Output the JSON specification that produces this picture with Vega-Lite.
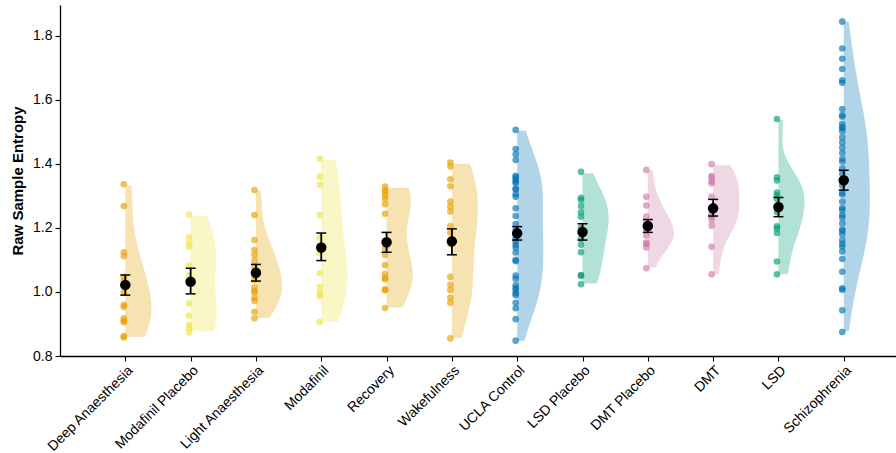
{
  "$schema": "https://vega.github.io/schema/vega-lite/v6.json",
  "width": 836,
  "height": 351,
  "autosize": {"type": "none"},
  "padding": {"left": 60, "top": 5, "right": 0, "bottom": 97},
  "background": "white",
  "config": {
    "view": {"stroke": null},
    "font": "Liberation Sans",
    "axis": {"grid": false, "domainColor": "#000", "tickColor": "#000", "labelColor": "#000", "titleColor": "#000", "domainWidth": 1.3, "tickWidth": 1.1, "tickSize": 5}
  },
  "datasets": {
    "grp": [
      {"g": "Deep Anaesthesia", "idx": 1}, {"g": "Modafinil Placebo", "idx": 2}, {"g": "Light Anaesthesia", "idx": 3}, {"g": "Modafinil", "idx": 4}, {"g": "Recovery", "idx": 5}, {"g": "Wakefulness", "idx": 6}, {"g": "UCLA Control", "idx": 7}, {"g": "LSD Placebo", "idx": 8}, {"g": "DMT Placebo", "idx": 9}, {"g": "DMT", "idx": 10}, {"g": "LSD", "idx": 11}, {"g": "Schizophrenia", "idx": 12}
    ],
    "pts": [
      {"g": "Deep Anaesthesia", "v": 1.336}, {"g": "Deep Anaesthesia", "v": 1.268}, {"g": "Deep Anaesthesia", "v": 1.124}, {"g": "Deep Anaesthesia", "v": 1.112}, {"g": "Deep Anaesthesia", "v": 1.047}, {"g": "Deep Anaesthesia", "v": 1.035}, {"g": "Deep Anaesthesia", "v": 1.0}, {"g": "Deep Anaesthesia", "v": 0.96}, {"g": "Deep Anaesthesia", "v": 0.953}, {"g": "Deep Anaesthesia", "v": 0.918}, {"g": "Deep Anaesthesia", "v": 0.91}, {"g": "Deep Anaesthesia", "v": 0.905}, {"g": "Deep Anaesthesia", "v": 0.862}, {"g": "Deep Anaesthesia", "v": 0.858},
      {"g": "Modafinil Placebo", "v": 1.242}, {"g": "Modafinil Placebo", "v": 1.17}, {"g": "Modafinil Placebo", "v": 1.152}, {"g": "Modafinil Placebo", "v": 1.14}, {"g": "Modafinil Placebo", "v": 1.082}, {"g": "Modafinil Placebo", "v": 1.052}, {"g": "Modafinil Placebo", "v": 0.964}, {"g": "Modafinil Placebo", "v": 0.926}, {"g": "Modafinil Placebo", "v": 0.897}, {"g": "Modafinil Placebo", "v": 0.886}, {"g": "Modafinil Placebo", "v": 0.873},
      {"g": "Light Anaesthesia", "v": 1.318}, {"g": "Light Anaesthesia", "v": 1.24}, {"g": "Light Anaesthesia", "v": 1.162}, {"g": "Light Anaesthesia", "v": 1.131}, {"g": "Light Anaesthesia", "v": 1.115}, {"g": "Light Anaesthesia", "v": 1.097}, {"g": "Light Anaesthesia", "v": 1.078}, {"g": "Light Anaesthesia", "v": 1.05}, {"g": "Light Anaesthesia", "v": 1.037}, {"g": "Light Anaesthesia", "v": 1.014}, {"g": "Light Anaesthesia", "v": 1.003}, {"g": "Light Anaesthesia", "v": 0.999}, {"g": "Light Anaesthesia", "v": 0.982}, {"g": "Light Anaesthesia", "v": 0.972}, {"g": "Light Anaesthesia", "v": 0.938}, {"g": "Light Anaesthesia", "v": 0.918},
      {"g": "Modafinil", "v": 1.416}, {"g": "Modafinil", "v": 1.36}, {"g": "Modafinil", "v": 1.335}, {"g": "Modafinil", "v": 1.24}, {"g": "Modafinil", "v": 1.169}, {"g": "Modafinil", "v": 1.121}, {"g": "Modafinil", "v": 1.058}, {"g": "Modafinil", "v": 1.016}, {"g": "Modafinil", "v": 0.998}, {"g": "Modafinil", "v": 0.986}, {"g": "Modafinil", "v": 0.906},
      {"g": "Recovery", "v": 1.329}, {"g": "Recovery", "v": 1.318}, {"g": "Recovery", "v": 1.311}, {"g": "Recovery", "v": 1.3}, {"g": "Recovery", "v": 1.29}, {"g": "Recovery", "v": 1.274}, {"g": "Recovery", "v": 1.244}, {"g": "Recovery", "v": 1.136}, {"g": "Recovery", "v": 1.115}, {"g": "Recovery", "v": 1.084}, {"g": "Recovery", "v": 1.056}, {"g": "Recovery", "v": 1.043}, {"g": "Recovery", "v": 1.04}, {"g": "Recovery", "v": 1.008}, {"g": "Recovery", "v": 1.005}, {"g": "Recovery", "v": 0.95},
      {"g": "Wakefulness", "v": 1.404}, {"g": "Wakefulness", "v": 1.392}, {"g": "Wakefulness", "v": 1.352}, {"g": "Wakefulness", "v": 1.33}, {"g": "Wakefulness", "v": 1.282}, {"g": "Wakefulness", "v": 1.266}, {"g": "Wakefulness", "v": 1.251}, {"g": "Wakefulness", "v": 1.206}, {"g": "Wakefulness", "v": 1.185}, {"g": "Wakefulness", "v": 1.15}, {"g": "Wakefulness", "v": 1.047}, {"g": "Wakefulness", "v": 1.022}, {"g": "Wakefulness", "v": 1.006}, {"g": "Wakefulness", "v": 0.982}, {"g": "Wakefulness", "v": 0.966}, {"g": "Wakefulness", "v": 0.855},
      {"g": "UCLA Control", "v": 1.506}, {"g": "UCLA Control", "v": 1.446}, {"g": "UCLA Control", "v": 1.43}, {"g": "UCLA Control", "v": 1.412}, {"g": "UCLA Control", "v": 1.363}, {"g": "UCLA Control", "v": 1.358}, {"g": "UCLA Control", "v": 1.352}, {"g": "UCLA Control", "v": 1.344}, {"g": "UCLA Control", "v": 1.34}, {"g": "UCLA Control", "v": 1.323}, {"g": "UCLA Control", "v": 1.32}, {"g": "UCLA Control", "v": 1.305}, {"g": "UCLA Control", "v": 1.297}, {"g": "UCLA Control", "v": 1.261}, {"g": "UCLA Control", "v": 1.237}, {"g": "UCLA Control", "v": 1.212}, {"g": "UCLA Control", "v": 1.195}, {"g": "UCLA Control", "v": 1.178}, {"g": "UCLA Control", "v": 1.167}, {"g": "UCLA Control", "v": 1.157}, {"g": "UCLA Control", "v": 1.147}, {"g": "UCLA Control", "v": 1.138}, {"g": "UCLA Control", "v": 1.123}, {"g": "UCLA Control", "v": 1.1}, {"g": "UCLA Control", "v": 1.096}, {"g": "UCLA Control", "v": 1.051}, {"g": "UCLA Control", "v": 1.041}, {"g": "UCLA Control", "v": 1.021}, {"g": "UCLA Control", "v": 1.012}, {"g": "UCLA Control", "v": 1.006}, {"g": "UCLA Control", "v": 0.996}, {"g": "UCLA Control", "v": 0.99}, {"g": "UCLA Control", "v": 0.966}, {"g": "UCLA Control", "v": 0.949}, {"g": "UCLA Control", "v": 0.915}, {"g": "UCLA Control", "v": 0.848},
      {"g": "LSD Placebo", "v": 1.375}, {"g": "LSD Placebo", "v": 1.294}, {"g": "LSD Placebo", "v": 1.287}, {"g": "LSD Placebo", "v": 1.268}, {"g": "LSD Placebo", "v": 1.249}, {"g": "LSD Placebo", "v": 1.235}, {"g": "LSD Placebo", "v": 1.2}, {"g": "LSD Placebo", "v": 1.165}, {"g": "LSD Placebo", "v": 1.147}, {"g": "LSD Placebo", "v": 1.124}, {"g": "LSD Placebo", "v": 1.053}, {"g": "LSD Placebo", "v": 1.05}, {"g": "LSD Placebo", "v": 1.024},
      {"g": "DMT Placebo", "v": 1.381}, {"g": "DMT Placebo", "v": 1.297}, {"g": "DMT Placebo", "v": 1.27}, {"g": "DMT Placebo", "v": 1.235}, {"g": "DMT Placebo", "v": 1.215}, {"g": "DMT Placebo", "v": 1.2}, {"g": "DMT Placebo", "v": 1.193}, {"g": "DMT Placebo", "v": 1.176}, {"g": "DMT Placebo", "v": 1.154}, {"g": "DMT Placebo", "v": 1.15}, {"g": "DMT Placebo", "v": 1.139}, {"g": "DMT Placebo", "v": 1.074},
      {"g": "DMT", "v": 1.399}, {"g": "DMT", "v": 1.362}, {"g": "DMT", "v": 1.358}, {"g": "DMT", "v": 1.346}, {"g": "DMT", "v": 1.339}, {"g": "DMT", "v": 1.297}, {"g": "DMT", "v": 1.256}, {"g": "DMT", "v": 1.243}, {"g": "DMT", "v": 1.235}, {"g": "DMT", "v": 1.225}, {"g": "DMT", "v": 1.207}, {"g": "DMT", "v": 1.141}, {"g": "DMT", "v": 1.055},
      {"g": "LSD", "v": 1.54}, {"g": "LSD", "v": 1.358}, {"g": "LSD", "v": 1.348}, {"g": "LSD", "v": 1.31}, {"g": "LSD", "v": 1.302}, {"g": "LSD", "v": 1.29}, {"g": "LSD", "v": 1.25}, {"g": "LSD", "v": 1.205}, {"g": "LSD", "v": 1.198}, {"g": "LSD", "v": 1.184}, {"g": "LSD", "v": 1.095}, {"g": "LSD", "v": 1.055},
      {"g": "Schizophrenia", "v": 1.844}, {"g": "Schizophrenia", "v": 1.76}, {"g": "Schizophrenia", "v": 1.728}, {"g": "Schizophrenia", "v": 1.696}, {"g": "Schizophrenia", "v": 1.661}, {"g": "Schizophrenia", "v": 1.653}, {"g": "Schizophrenia", "v": 1.571}, {"g": "Schizophrenia", "v": 1.552}, {"g": "Schizophrenia", "v": 1.547}, {"g": "Schizophrenia", "v": 1.525}, {"g": "Schizophrenia", "v": 1.516}, {"g": "Schizophrenia", "v": 1.511}, {"g": "Schizophrenia", "v": 1.502}, {"g": "Schizophrenia", "v": 1.483}, {"g": "Schizophrenia", "v": 1.467}, {"g": "Schizophrenia", "v": 1.45}, {"g": "Schizophrenia", "v": 1.434}, {"g": "Schizophrenia", "v": 1.415}, {"g": "Schizophrenia", "v": 1.407}, {"g": "Schizophrenia", "v": 1.386}, {"g": "Schizophrenia", "v": 1.37}, {"g": "Schizophrenia", "v": 1.345}, {"g": "Schizophrenia", "v": 1.332}, {"g": "Schizophrenia", "v": 1.31}, {"g": "Schizophrenia", "v": 1.304}, {"g": "Schizophrenia", "v": 1.282}, {"g": "Schizophrenia", "v": 1.262}, {"g": "Schizophrenia", "v": 1.256}, {"g": "Schizophrenia", "v": 1.24}, {"g": "Schizophrenia", "v": 1.232}, {"g": "Schizophrenia", "v": 1.214}, {"g": "Schizophrenia", "v": 1.195}, {"g": "Schizophrenia", "v": 1.19}, {"g": "Schizophrenia", "v": 1.18}, {"g": "Schizophrenia", "v": 1.162}, {"g": "Schizophrenia", "v": 1.15}, {"g": "Schizophrenia", "v": 1.141}, {"g": "Schizophrenia", "v": 1.126}, {"g": "Schizophrenia", "v": 1.103}, {"g": "Schizophrenia", "v": 1.063}, {"g": "Schizophrenia", "v": 1.011}, {"g": "Schizophrenia", "v": 1.007}, {"g": "Schizophrenia", "v": 0.943}, {"g": "Schizophrenia", "v": 0.875}
    ],
    "summ": [
      {"g": "Deep Anaesthesia", "v": 1.022, "lo": 0.99, "hi": 1.053},
      {"g": "Modafinil Placebo", "v": 1.032, "lo": 0.994, "hi": 1.074},
      {"g": "Light Anaesthesia", "v": 1.06, "lo": 1.034, "hi": 1.086},
      {"g": "Modafinil", "v": 1.139, "lo": 1.098, "hi": 1.184},
      {"g": "Recovery", "v": 1.155, "lo": 1.124, "hi": 1.186},
      {"g": "Wakefulness", "v": 1.158, "lo": 1.116, "hi": 1.197},
      {"g": "UCLA Control", "v": 1.183, "lo": 1.162, "hi": 1.204},
      {"g": "LSD Placebo", "v": 1.187, "lo": 1.162, "hi": 1.213},
      {"g": "DMT Placebo", "v": 1.206, "lo": 1.186, "hi": 1.226},
      {"g": "DMT", "v": 1.261, "lo": 1.237, "hi": 1.289},
      {"g": "LSD", "v": 1.265, "lo": 1.235, "hi": 1.295},
      {"g": "Schizophrenia", "v": 1.349, "lo": 1.318, "hi": 1.38}
    ]
  },
  "encoding": {
    "x": {
      "field": "idx", "type": "quantitative",
      "scale": {"domain": [0, 12.8], "nice": false, "zero": false},
      "axis": {
        "title": null, "values": [1, 2, 3, 4, 5, 6, 7, 8, 9, 10, 11, 12],
        "labelExpr": "datum.value == 1 ? 'Deep Anaesthesia' : datum.value == 2 ? 'Modafinil Placebo' : datum.value == 3 ? 'Light Anaesthesia' : datum.value == 4 ? 'Modafinil' : datum.value == 5 ? 'Recovery' : datum.value == 6 ? 'Wakefulness' : datum.value == 7 ? 'UCLA Control' : datum.value == 8 ? 'LSD Placebo' : datum.value == 9 ? 'DMT Placebo' : datum.value == 10 ? 'DMT' : datum.value == 11 ? 'LSD' : 'Schizophrenia'",
        "labelAngle": -45, "labelFontSize": 14, "labelPadding": 2, "labelOverlap": false, "labelBound": false, "grid": false
      }
    },
    "y": {
      "field": "v", "type": "quantitative",
      "scale": {"domain": [0.8, 1.896], "nice": false, "zero": false},
      "axis": {
        "title": "Raw Sample Entropy", "titleFontSize": 15, "titleFontWeight": "bold", "titlePadding": 7,
        "values": [0.8, 1.0, 1.2, 1.4, 1.6, 1.8], "format": ".1f", "labelFontSize": 14, "labelPadding": 3, "labelOverlap": false, "grid": false
      }
    }
  },
  "layer": [
    {
      "data": {"name": "pts"},
      "transform": [
        {"joinaggregate": [{"op": "min", "field": "v", "as": "vmin"}, {"op": "max", "field": "v", "as": "vmax"}], "groupby": ["g"]},
        {"density": "v", "groupby": ["g", "vmin", "vmax"], "steps": 240, "as": ["v", "density"]},
        {"filter": "datum.v >= datum.vmin && datum.v <= datum.vmax"},
        {"joinaggregate": [{"op": "max", "field": "density", "as": "dmax"}], "groupby": ["g"]},
        {"lookup": "g", "from": {"data": {"name": "grp"}, "key": "g", "fields": ["idx"]}},
        {"calculate": "datum.idx + 0.4 * datum.density / datum.dmax", "as": "xr"}
      ],
      "mark": {"type": "area", "orient": "horizontal", "opacity": 0.3},
      "encoding": {
        "x2": {"field": "xr"},
        "detail": {"field": "g"},
        "color": {
          "field": "g", "type": "nominal", "legend": null,
          "scale": {
            "domain": ["Deep Anaesthesia", "Modafinil Placebo", "Light Anaesthesia", "Modafinil", "Recovery", "Wakefulness", "UCLA Control", "LSD Placebo", "DMT Placebo", "DMT", "LSD", "Schizophrenia"],
            "range": ["#E69F00", "#F0E442", "#E69F00", "#F0E442", "#E69F00", "#E69F00", "#0072B2", "#009E73", "#CC79A7", "#CC79A7", "#009E73", "#0072B2"]
          }
        }
      }
    },
    {
      "data": {"name": "pts"},
      "transform": [
        {"lookup": "g", "from": {"data": {"name": "grp"}, "key": "g", "fields": ["idx"]}}
      ],
      "mark": {"type": "circle", "size": 44, "opacity": 0.65, "xOffset": -1.5},
      "encoding": {
        "color": {
          "field": "g", "type": "nominal", "legend": null,
          "scale": {
            "domain": ["Deep Anaesthesia", "Modafinil Placebo", "Light Anaesthesia", "Modafinil", "Recovery", "Wakefulness", "UCLA Control", "LSD Placebo", "DMT Placebo", "DMT", "LSD", "Schizophrenia"],
            "range": ["#E69F00", "#F0E442", "#E69F00", "#F0E442", "#E69F00", "#E69F00", "#0072B2", "#009E73", "#CC79A7", "#CC79A7", "#009E73", "#0072B2"]
          }
        }
      }
    },
    {
      "data": {"name": "summ"},
      "transform": [
        {"lookup": "g", "from": {"data": {"name": "grp"}, "key": "g", "fields": ["idx"]}}
      ],
      "mark": {"type": "rule", "color": "black", "strokeWidth": 1.8},
      "encoding": {"y": {"field": "lo", "type": "quantitative"}, "y2": {"field": "hi"}}
    },
    {
      "data": {"name": "summ"},
      "transform": [
        {"lookup": "g", "from": {"data": {"name": "grp"}, "key": "g", "fields": ["idx"]}}
      ],
      "mark": {"type": "tick", "orient": "horizontal", "color": "black", "size": 10, "thickness": 1.5, "opacity": 1},
      "encoding": {"y": {"field": "lo", "type": "quantitative"}}
    },
    {
      "data": {"name": "summ"},
      "transform": [
        {"lookup": "g", "from": {"data": {"name": "grp"}, "key": "g", "fields": ["idx"]}}
      ],
      "mark": {"type": "tick", "orient": "horizontal", "color": "black", "size": 10, "thickness": 1.5, "opacity": 1},
      "encoding": {"y": {"field": "hi", "type": "quantitative"}}
    },
    {
      "data": {"name": "summ"},
      "transform": [
        {"lookup": "g", "from": {"data": {"name": "grp"}, "key": "g", "fields": ["idx"]}}
      ],
      "mark": {"type": "circle", "color": "black", "size": 110, "opacity": 1},
      "encoding": {}
    }
  ]
}
